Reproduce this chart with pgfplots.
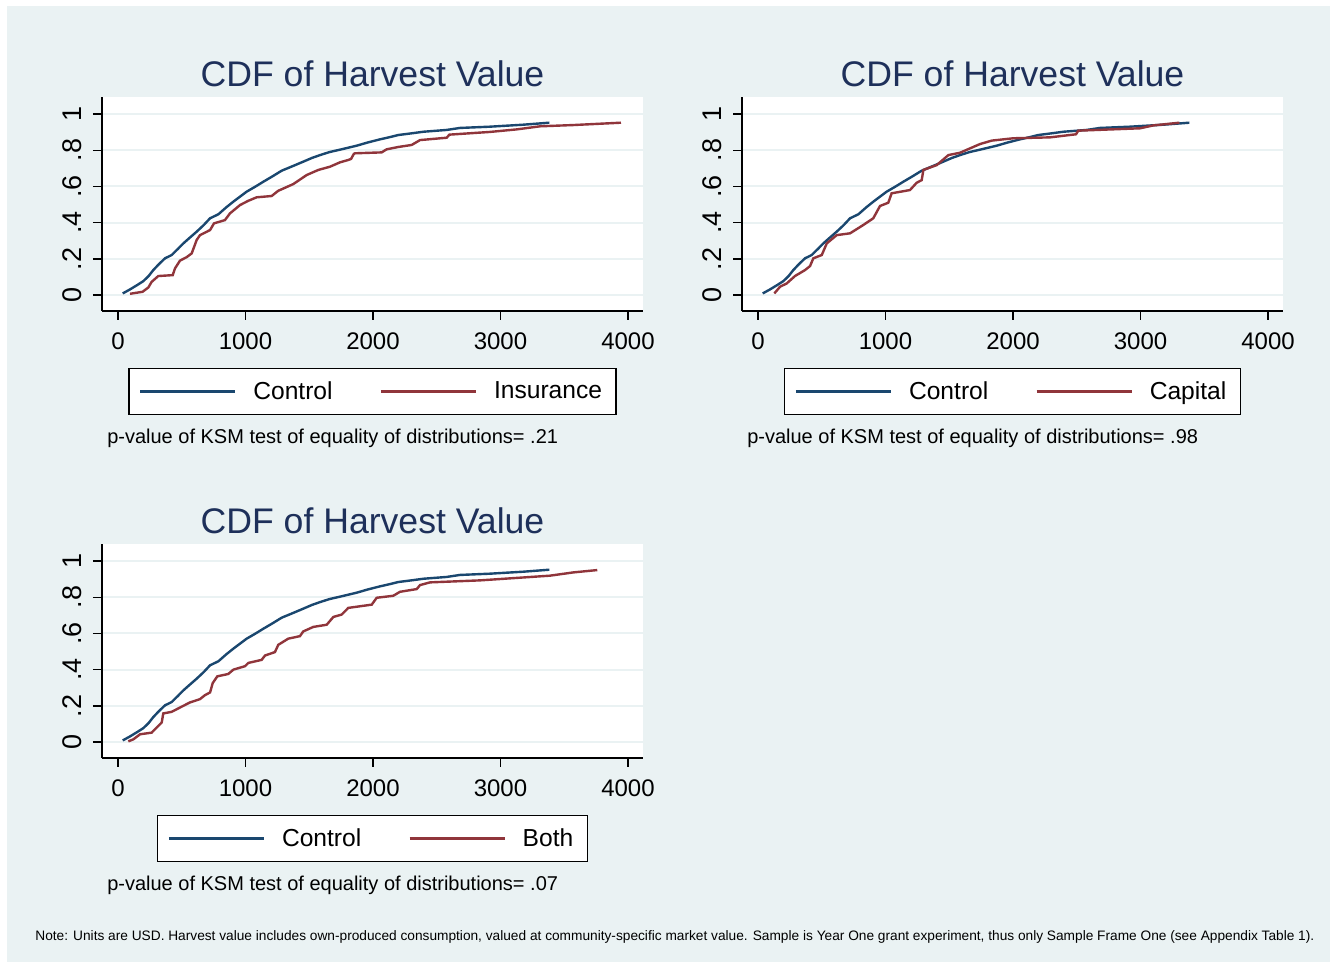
\documentclass[border=0pt]{standalone}
\usepackage{pgfplots}
\pgfplotsset{compat=1.18}
\usepackage{fontspec}
\setmainfont{Liberation Sans}
\definecolor{bgc}{RGB}{234,242,243}
\definecolor{gridc}{RGB}{234,242,243}
\definecolor{ctrl}{RGB}{26,71,111}
\definecolor{treat}{RGB}{144,53,59}
\definecolor{titlec}{RGB}{30,48,90}

\pgfplotsset{
  stata/.style={
    scale only axis, width=270.5pt, height=107pt,
    xmin=-125.5, xmax=4117.6, ymin=-0.088, ymax=1.094,
    axis lines=left, axis line style={-, black, line width=0.7pt},
    axis background/.style={fill=white},
    clip=false,
    xtick={0,1000,2000,3000,4000}, xticklabels={0,1000,2000,3000,4000},
    ytick={0,0.2,0.4,0.6,0.8,1}, yticklabels={0,.2,.4,.6,.8,1},
    tick align=outside, major tick length=4.5pt,
    tick style={black, line width=0.7pt},
    ymajorgrids, grid style={color=gridc, line width=1pt},
    xticklabel style={font=\fontsize{12}{14}\selectfont, inner sep=0pt, anchor=north, yshift=-6pt},
    yticklabel style={font=\fontsize{13.5}{15}\selectfont, rotate=90, anchor=south, inner sep=0pt},
    yticklabel shift=5.5pt,
    title=CDF of Harvest Value,
    title style={at={(0.5,0.991)}, anchor=base, yshift=0pt, font=\fontsize{17.8}{20}\selectfont, text=titlec, inner sep=0pt},
    legend image code/.code={\draw[#1] (0pt,0pt) -- (47.5pt,0pt);},
    legend style={at={(0.5,-0.266)}, anchor=north, draw=black, line width=0.7pt, fill=white,
      font=\fontsize{12.3}{14}\selectfont, legend columns=2,
      inner xsep=5pt, inner ysep=4.3pt,
      /tikz/every odd column/.append style={column sep=6.5pt},
      /tikz/every even column/.append style={column sep=21.5pt}},
  },
  ctl/.style={ctrl, line width=1.2pt},
  trt/.style={treat, line width=1.2pt},
}

\newcommand{\controldata}{
(37,0.009)(94,0.031)(150,0.055)(199,0.077)(240,0.105)(277,0.138)(320,0.17)(369,0.203)(421,0.221)(470,0.255)(512,0.285)(560,0.315)(617,0.35)(670,0.385)(722,0.424)(787,0.446)(850,0.485)(905,0.516)(960,0.545)(1009,0.571)(1080,0.6)(1140,0.626)(1210,0.655)(1284,0.687)(1370,0.712)(1454,0.737)(1520,0.757)(1584,0.773)(1660,0.79)(1741,0.803)(1872,0.825)(1960,0.843)(2055,0.86)(2130,0.872)(2199,0.884)(2300,0.893)(2395,0.902)(2578,0.912)(2682,0.923)(2918,0.93)(3180,0.941)(3383,0.952)
}

\begin{document}
\begin{tikzpicture}
\fill[white] (0,0) rectangle (667.5pt,483.5pt);
\fill[bgc] (3.5pt,2.5pt) rectangle (665pt,480.5pt);

\begin{axis}[stata, at={(51pt,328pt)}, anchor=south west]
\addplot[ctl] coordinates {\controldata};
\addlegendentry{Control}
\addplot[trt] coordinates {
(94,0.007)(193,0.018)(238,0.042)(264,0.073)(316,0.105)(429,0.11)(447,0.147)(486,0.19)(540,0.21)(578,0.23)(617,0.304)(643,0.331)(722,0.359)(753,0.396)(839,0.414)(878,0.451)(957,0.497)(1020,0.52)(1088,0.54)(1205,0.547)(1257,0.576)(1375,0.613)(1480,0.663)(1571,0.691)(1663,0.709)(1741,0.733)(1806,0.746)(1828,0.752)(1850,0.78)(1859,0.783)(2068,0.788)(2107,0.805)(2200,0.818)(2303,0.829)(2369,0.856)(2578,0.869)(2599,0.886)(2918,0.901)(3127,0.915)(3310,0.932)(3571,0.939)(3945,0.952)
};
\addlegendentry{Insurance}
\node[anchor=base west, font=\fontsize{10}{12}\selectfont, inner sep=0pt] at (axis description cs:0.009,-0.617) {p-value of KSM test of equality of distributions= .21};
\end{axis}

\begin{axis}[stata, at={(371pt,328pt)}, anchor=south west]
\addplot[ctl] coordinates {\controldata};
\addlegendentry{Control}
\addplot[trt] coordinates {
(128,0.009)(173,0.046)(225,0.064)(290,0.105)(369,0.138)(408,0.16)(434,0.203)(500,0.221)(539,0.285)(617,0.331)(722,0.341)(826,0.387)(904,0.424)(957,0.492)(1022,0.51)(1048,0.562)(1192,0.58)(1244,0.62)(1284,0.635)(1297,0.691)(1402,0.718)(1493,0.773)(1584,0.786)(1741,0.834)(1833,0.853)(1898,0.858)(2003,0.866)(2290,0.871)(2494,0.888)(2512,0.908)(2996,0.921)(3101,0.937)(3305,0.952)
};
\addlegendentry{Capital}
\node[anchor=base west, font=\fontsize{10}{12}\selectfont, inner sep=0pt] at (axis description cs:0.009,-0.617) {p-value of KSM test of equality of distributions= .98};
\end{axis}

\begin{axis}[stata, at={(51pt,104.5pt)}, anchor=south west]
\addplot[ctl] coordinates {\controldata};
\addlegendentry{Control}
\addplot[trt] coordinates {
(81,0.004)(120,0.015)(173,0.043)(264,0.052)(316,0.089)(343,0.108)(355,0.158)(421,0.167)(512,0.2)(565,0.219)(643,0.237)(682,0.259)(722,0.274)(743,0.326)(779,0.363)(865,0.376)(905,0.4)(996,0.419)(1022,0.437)(1127,0.454)(1153,0.478)(1231,0.497)(1257,0.537)(1335,0.571)(1427,0.585)(1453,0.611)(1532,0.636)(1637,0.648)(1689,0.691)(1754,0.704)(1780,0.722)(1806,0.741)(1990,0.759)(2029,0.797)(2159,0.808)(2212,0.83)(2343,0.845)(2369,0.867)(2447,0.882)(2839,0.893)(3388,0.919)(3571,0.937)(3759,0.95)
};
\addlegendentry{Both}
\node[anchor=base west, font=\fontsize{10}{12}\selectfont, inner sep=0pt] at (axis description cs:0.009,-0.617) {p-value of KSM test of equality of distributions= .07};
\end{axis}

\node[anchor=west, font=\fontsize{6.85}{8}\selectfont, inner sep=0pt] at (17.5pt,15pt) {Note: Units are USD. Harvest value includes own-produced consumption, valued at community-specific market value. Sample is Year One grant experiment, thus only Sample Frame One (see Appendix Table 1).};
\end{tikzpicture}
\end{document}
